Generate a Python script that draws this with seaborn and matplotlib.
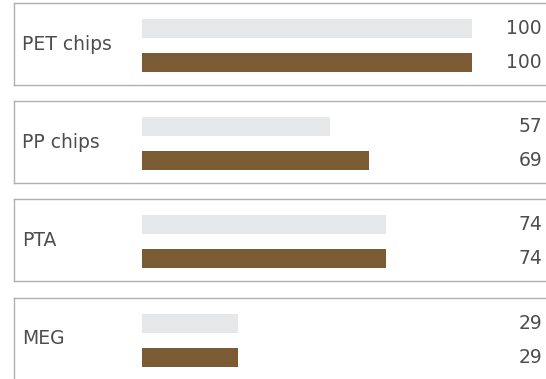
import matplotlib
matplotlib.use("Agg")
import matplotlib.pyplot as plt
import seaborn as sns
import pandas as pd

# Capacity utilisation indices by product, prior vs current period
categories = ["PET chips", "PP chips", "PTA", "MEG"]
prior = [100, 57, 74, 29]
current = [100, 69, 74, 29]
series = ["prior", "current"]

GRAY = "#E6E7E8"
BROWN = "#7B5B33"
TEXT = "#4D4D4D"
BORDER = "#B0B0B0"

sns.set_theme(style="white")
plt.rcParams["font.family"] = ["DejaVu Sans"]

W, H = 546, 379
fig = plt.figure(figsize=(W / 100, H / 100), dpi=100)
fig.patch.set_facecolor("white")

box_left = 14
box_tops = [3, 101, 199, 298]
box_h = 82

for name, p, c, top in zip(categories, prior, current, box_tops):
    ax = fig.add_axes([box_left / W, 1 - (top + box_h) / H,
                       (W - box_left) / W, box_h / H])
    df = pd.DataFrame({"series": series, "value": [p, c]})
    sns.barplot(data=df, x="value", y="series", hue="series",
                palette=[GRAY, BROWN], width=0.58, orient="h",
                legend=False, saturation=1, linewidth=0, ax=ax)
    ax.set_xlim(-38.9, 122.6)
    ax.set_ylim(1.66, -0.75)
    ax.set_xticks([])
    ax.set_yticks([])
    ax.set_xlabel("")
    ax.set_ylabel("")
    for side in ["left", "top", "bottom"]:
        ax.spines[side].set_visible(True)
        ax.spines[side].set_color(BORDER)
        ax.spines[side].set_linewidth(1.0)
    ax.spines["right"].set_visible(False)

    ax.text(0.015, 0.5, name, transform=ax.transAxes, ha="left",
            va="center", fontsize=13.5, color=TEXT)
    for i, v in enumerate([p, c]):
        ax.text(0.9925, i, f"{v}", transform=ax.get_yaxis_transform(),
                ha="right", va="center", fontsize=13.5, color=TEXT)

fig.savefig("out.png", dpi=100, facecolor="white")
